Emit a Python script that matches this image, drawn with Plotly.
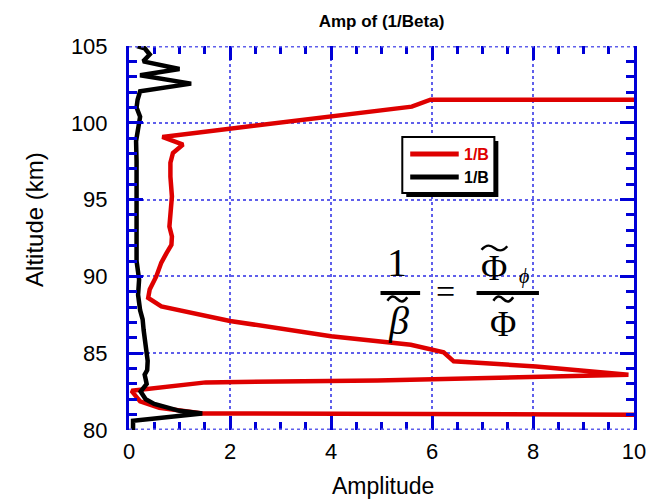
import plotly.graph_objects as go

# Amplitude profiles of 1/B versus altitude
red_alt = [101.5, 101.5, 101.05, 100.05, 99.08, 98.58, 98.26, 98.04, 97.4, 96.5, 95.2,
           93.9, 93.25, 92.6, 92.05, 91.5, 90.9, 90.0, 89.15, 88.6, 88.05, 87.1, 86.1,
           85.55, 85.05, 84.47, 84.14, 83.6, 83.23, 83.1, 82.55, 81.86, 81.45, 81.08, 81.0]
red_amp = [10.0, 5.97, 5.6, 3.0, 0.66, 1.07, 0.97, 0.87, 0.82, 0.82, 0.85,
           0.82, 0.80, 0.85, 0.84, 0.74, 0.64, 0.54, 0.41, 0.38, 0.64, 2.0, 4.0,
           5.58, 6.23, 6.43, 8.06, 9.89, 4.92, 1.52, 0.05, 0.22, 0.6, 1.46, 10.0]

black_alt = [105.0, 104.85, 104.45, 104.0, 103.5, 103.1, 102.55, 102.05, 101.5, 101.0,
             100.4, 99.6, 98.8, 97.5, 96.0, 95.0, 93.0, 91.0, 89.8, 88.8, 87.8, 87.2,
             86.5, 85.0, 84.5, 83.9, 83.6, 83.3, 83.0, 82.5, 82.0, 81.7, 81.45, 81.25,
             81.08, 80.6, 80.0]
black_amp = [0.16, 0.31, 0.41, 0.28, 1.0, 0.22, 1.23, 0.22, 0.17, 0.15,
             0.22, 0.18, 0.14, 0.15, 0.15, 0.15, 0.15, 0.15, 0.2, 0.18, 0.22, 0.27,
             0.29, 0.35, 0.37, 0.36, 0.31, 0.33, 0.35, 0.23, 0.33, 0.5, 0.75, 1.0,
             1.45, 0.08, 0.08]

series_names = ["1/B", "1/B"]
x_range = [0, 10]
y_range = [80, 105]
x_ticks = [0, 2, 4, 6, 8, 10]
y_ticks = [80, 85, 90, 95, 100, 105]

RED = "rgb(222,0,0)"
BLUE = "rgb(0,0,215)"
GRID = "rgb(95,95,235)"
SANS = "Liberation Sans, Arial, sans-serif"
SERIF = "Liberation Serif, Times New Roman, serif"

W, H = 658, 501
ML, MR, MT, MB = 129, 19, 46, 71
PW, PH = W - ML - MR, H - MT - MB


def px(x):
    return (x - ML) / PW


def py(y):
    return (H - MB - y) / PH


fig = go.Figure()
fig.add_trace(go.Scatter(x=red_amp, y=red_alt, mode="lines", name=series_names[0],
                         line=dict(color=RED, width=4.5), showlegend=False))
fig.add_trace(go.Scatter(x=black_amp, y=black_alt, mode="lines", name=series_names[1],
                         line=dict(color="black", width=4.5), showlegend=False))

tick_common = dict(ticks="inside", tickcolor=BLUE, tickwidth=3, ticklen=14,
                   showgrid=True, gridcolor=GRID, griddash="dot", gridwidth=1.5,
                   zeroline=False, mirror="allticks",
                   tickfont=dict(family=SANS, size=22, color="black"))

fig.update_xaxes(range=x_range, tickvals=x_ticks, showline=False,
                 minor=dict(dtick=0.5, ticks="inside", ticklen=8, tickwidth=3,
                            tickcolor=BLUE, showgrid=False),
                 ticklabelstandoff=6, **tick_common)
fig.update_yaxes(range=y_range, tickvals=y_ticks, showline=True, linecolor=BLUE,
                 linewidth=3,
                 minor=dict(dtick=1, ticks="inside", ticklen=8, tickwidth=3,
                            tickcolor=BLUE, showgrid=False),
                 ticklabelstandoff=14, **tick_common)

shapes = []
# dotted top and bottom frame
for yv in (y_range[0], y_range[1]):
    shapes.append(dict(type="line", xref="paper", yref="y", x0=0, x1=1, y0=yv, y1=yv,
                       line=dict(color=GRID, width=3, dash="dot")))

# legend box with drop shadow
lx0, lx1, ly0, ly1 = 405, 498, 137, 193
shapes.append(dict(type="rect", xref="paper", yref="paper",
                   x0=px(lx0 + 4), x1=px(lx1 + 4), y0=py(ly1 + 4), y1=py(ly0 + 4),
                   line=dict(width=0), fillcolor="black"))
shapes.append(dict(type="rect", xref="paper", yref="paper",
                   x0=px(lx0), x1=px(lx1), y0=py(ly1), y1=py(ly0),
                   line=dict(color="black", width=2), fillcolor="white"))
for yy, col in ((154, RED), (177, "black")):
    shapes.append(dict(type="line", xref="paper", yref="paper",
                       x0=px(413), x1=px(462), y0=py(yy), y1=py(yy),
                       line=dict(color=col, width=5)))

# fraction bars of the formula
for xa, xb in ((383, 423), (480, 543)):
    shapes.append(dict(type="line", xref="paper", yref="paper",
                       x0=px(xa), x1=px(xb), y0=py(293), y1=py(293),
                       line=dict(color="black", width=4)))


def tilde(cx, cy, half):
    """Wavy accent drawn as a cubic Bezier path centred on (cx, cy) in pixels."""
    a = 3.0
    pts = [(cx - half, cy + a * 0.6), (cx - half * 0.6, cy - a * 1.4),
           (cx - half * 0.3, cy - a), (cx, cy),
           (cx + half * 0.3, cy + a), (cx + half * 0.6, cy + a * 1.4),
           (cx + half, cy - a * 0.6)]
    p = [(px(x), py(y)) for x, y in pts]
    path = "M{:.5f},{:.5f} C{:.5f},{:.5f} {:.5f},{:.5f} {:.5f},{:.5f} " \
           "C{:.5f},{:.5f} {:.5f},{:.5f} {:.5f},{:.5f}".format(
               *p[0], *p[1], *p[2], *p[3], *p[4], *p[5], *p[6])
    shapes.append(dict(type="path", xref="paper", yref="paper", path=path,
                       line=dict(color="black", width=2.5)))


tilde(400, 299, 10)
tilde(498, 248, 13)
tilde(507, 299, 10)

annotations = []
for yy, col, name in ((154, RED, series_names[0]), (177, "black", series_names[1])):
    annotations.append(dict(xref="paper", yref="paper", x=px(465), y=py(yy),
                            xanchor="left", yanchor="middle", showarrow=False,
                            text="<b>%s</b>" % name,
                            font=dict(family=SANS, size=16, color=col)))


def eq(text, x, y, size, **kw):
    annotations.append(dict(xref="paper", yref="paper", x=px(x), y=py(y),
                            xanchor="center", yanchor="middle", showarrow=False,
                            text=text, font=dict(family=SERIF, size=size, color="black"),
                            **kw))


eq("1", 400, 262, 40)
eq("<i>β</i>", 401, 320, 40)
eq("=", 449, 291, 34)
eq("Φ", 498, 268, 36)
eq("<i>ϕ</i>", 528, 276, 20)
eq("Φ", 507, 324, 36)

# axis titles
annotations.append(dict(xref="paper", yref="paper", x=px(33), y=py(219), textangle=-90,
                        xanchor="center", yanchor="middle", showarrow=False,
                        text="Altitude (km)", font=dict(family=SANS, size=24, color="black")))
annotations.append(dict(xref="paper", yref="paper", x=px(386), y=py(486),
                        xanchor="center", yanchor="middle", showarrow=False,
                        text="Amplitude", font=dict(family=SANS, size=23, color="black")))

fig.update_layout(
    width=W, height=H,
    margin=dict(l=ML, r=MR, t=MT, b=MB),
    paper_bgcolor="white", plot_bgcolor="white",
    title=dict(text="<b>Amp of (1/Beta)</b>", x=0.5, xref="paper", y=1 - 21 / H,
               yref="container", xanchor="center", yanchor="middle",
               font=dict(family=SANS, size=17, color="black")),
    shapes=shapes, annotations=annotations,
)

fig.write_html("out.html")
